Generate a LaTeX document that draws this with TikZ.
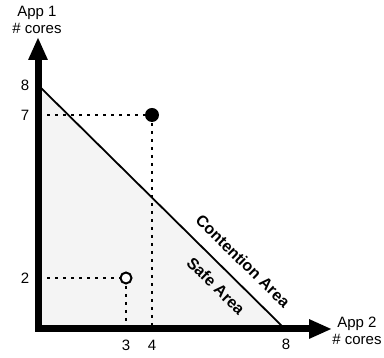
\documentclass[tikz,border=0pt]{standalone}
\usepackage{fontspec}
\setmainfont{Liberation Sans}
\usetikzlibrary{arrows.meta}
\tikzset{
  axisline/.style={line width=7pt, line join=miter, {Triangle[length=23pt,width=18pt]}-{Triangle[length=23pt,width=18pt]}},
  guide/.style={line width=1.6pt, dash pattern=on 3pt off 5pt},
  lbl/.style={font=\fontsize{15}{17}\selectfont, inner sep=0pt},
  area/.style={font=\fontsize{16}{18}\selectfont\bfseries, inner sep=0pt, rotate=-44.4},
}
\begin{document}
\begin{tikzpicture}[x=1pt,y=1pt]
\useasboundingbox (0,0) rectangle (384,358);
% safe area triangle
\fill[fill={rgb,255:red,244;green,244;blue,244}] (38,29) -- (38,273) -- (285,29) -- cycle;
\coordinate (t8) at (38,273);
\coordinate (r8) at (285,29);
\draw[line width=1.8pt] (t8) -- (r8);
% points
\coordinate (p1) at (152,243);
\coordinate (p2) at (126,80);
\coordinate (y7) at (47,243);
\coordinate (y2) at (47,80);
\coordinate (x4) at (152,29);
\coordinate (x3) at (126,29);
\draw[guide] (y7) -- (p1);
\draw[guide] (p1) -- (x4);
\draw[guide] (y2) -- (p2);
\draw[guide] (p2) -- (x3);
\fill (p1) circle (7pt);
\draw[line width=2pt, fill=white] (p2) circle (5.5pt);
% axes
\draw[axisline] (38,321) -- (38,29) -- (332,29);
% tick labels
\node[lbl] (l8y) at (25,273) {8};
\node[lbl] (l7) at (25,243) {7};
\node[lbl] (l2) at (25,80) {2};
\node[lbl] (l3) at (126,13) {3};
\node[lbl] (l4) at (152,13) {4};
\node[lbl] (l8x) at (286,14) {8};
% axis titles
\node[lbl, align=center] (app1) at (37,338) {App 1\\\# cores};
\node[lbl, align=center] (app2) at (357,27) {App 2\\\# cores};
% areas
\node[area] (cont) at (243,97) {Contention Area};
\node[area] (safe) at (216,72) {Safe Area};
\end{tikzpicture}
\end{document}
